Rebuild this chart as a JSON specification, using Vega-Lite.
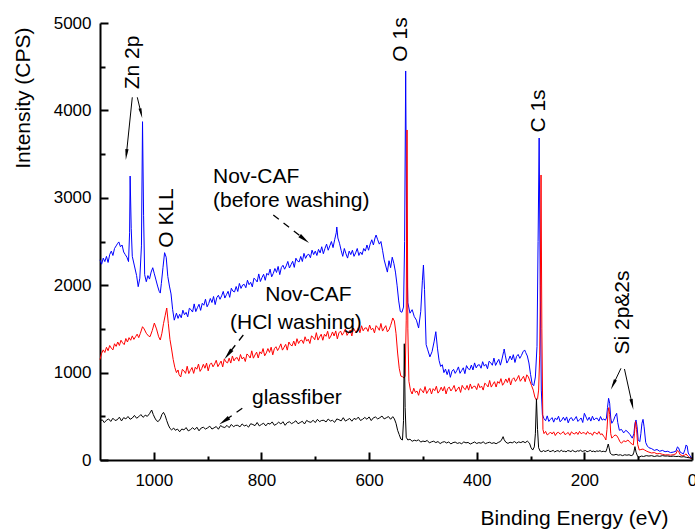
{
  "$schema": "https://vega.github.io/schema/vega-lite/v6.json",
  "width": 592,
  "height": 437,
  "autosize": {"type": "none"},
  "padding": {"left": 100, "top": 23, "right": 3, "bottom": 69},
  "background": "white",
  "config": {"view": {"stroke": null}, "font": "Liberation Sans"},
  "datasets": {
    "blue": [
      {"e":1100,"i":2290},{"e":1097,"i":2240},{"e":1094,"i":2310},{"e":1091,"i":2270},{"e":1088,"i":2330},{"e":1085,"i":2260},{"e":1082,"i":2350},{"e":1079,"i":2390},{"e":1076,"i":2340},{"e":1073,"i":2420},{"e":1070,"i":2450},{"e":1067,"i":2480},{"e":1065,"i":2495},{"e":1062,"i":2440},{"e":1059,"i":2460},{"e":1056,"i":2380},{"e":1053,"i":2350},{"e":1050,"i":2320},{"e":1047,"i":2270},{"e":1045,"i":2600},{"e":1044,"i":3249},{"e":1042,"i":2650},{"e":1040,"i":2330},{"e":1036,"i":2220},{"e":1032,"i":2110},{"e":1029,"i":1983},{"e":1026,"i":2080},{"e":1023,"i":2450},{"e":1021,"i":3871},{"e":1019,"i":2800},{"e":1017,"i":2120},{"e":1014,"i":2040},{"e":1011,"i":2110},{"e":1008,"i":2070},{"e":1005,"i":2150},{"e":1002,"i":2200},{"e":999,"i":2130},{"e":996,"i":2060},{"e":993,"i":1990},{"e":990,"i":1930},{"e":988,"i":1910},{"e":986,"i":2020},{"e":983,"i":2200},{"e":980,"i":2372},{"e":977,"i":2320},{"e":974,"i":2100},{"e":971,"i":1990},{"e":968,"i":1900},{"e":965,"i":1720},{"e":962,"i":1600},{"e":958,"i":1680},{"e":955,"i":1620},
      {"e":952,"i":1667},{"e":949,"i":1627},{"e":946,"i":1714},{"e":943,"i":1662},{"e":940,"i":1689},{"e":937,"i":1638},{"e":934,"i":1736},{"e":931,"i":1721},{"e":928,"i":1693},{"e":925,"i":1786},{"e":922,"i":1698},{"e":919,"i":1743},{"e":916,"i":1782},{"e":913,"i":1712},{"e":910,"i":1793},{"e":907,"i":1771},{"e":904,"i":1840},{"e":901,"i":1753},{"e":898,"i":1791},{"e":895,"i":1848},{"e":892,"i":1802},{"e":889,"i":1871},{"e":886,"i":1778},{"e":883,"i":1858},{"e":880,"i":1885},{"e":877,"i":1839},{"e":874,"i":1878},{"e":871,"i":1929},{"e":868,"i":1853},{"e":865,"i":1892},{"e":862,"i":1930},{"e":859,"i":1861},{"e":856,"i":1965},{"e":853,"i":1932},{"e":850,"i":1923},{"e":847,"i":1985},{"e":844,"i":1928},{"e":841,"i":2020},{"e":838,"i":1963},{"e":835,"i":2002},{"e":832,"i":2010},{"e":829,"i":1971},{"e":826,"i":2057},{"e":823,"i":2006},{"e":820,"i":2033},{"e":817,"i":1981},{"e":814,"i":2080},{"e":811,"i":2064},{"e":808,"i":2037},{"e":805,"i":2129},{"e":802,"i":2042},{"e":799,"i":2087},{"e":796,"i":2125},{"e":793,"i":2056},{"e":790,"i":2136},{"e":787,"i":2115},{"e":784,"i":2184},{"e":781,"i":2096},{"e":778,"i":2135},{"e":775,"i":2191},{"e":772,"i":2146},{"e":769,"i":2215},{"e":766,"i":2121},{"e":763,"i":2202},{"e":760,"i":2228},{"e":757,"i":2183},{"e":754,"i":2221},{"e":751,"i":2272},{"e":748,"i":2197},{"e":745,"i":2235},{"e":742,"i":2274},{"e":739,"i":2204},{"e":736,"i":2309},{"e":733,"i":2276},{"e":730,"i":2266},{"e":727,"i":2329},{"e":724,"i":2271},{"e":721,"i":2364},{"e":718,"i":2307},{"e":715,"i":2345},{"e":712,"i":2354},{"e":709,"i":2314},{"e":706,"i":2401},{"e":703,"i":2350},
      {"e":700,"i":2390},{"e":697,"i":2340},{"e":694,"i":2410},{"e":691,"i":2370},{"e":688,"i":2440},{"e":685,"i":2360},{"e":682,"i":2420},{"e":679,"i":2470},{"e":676,"i":2400},{"e":673,"i":2450},{"e":670,"i":2500},{"e":667,"i":2430},{"e":664,"i":2520},{"e":661,"i":2600},{"e":660,"i":2666},{"e":658,"i":2540},{"e":655,"i":2480},{"e":652,"i":2400},{"e":649,"i":2330},{"e":646,"i":2420},{"e":643,"i":2360},{"e":640,"i":2310},{"e":637,"i":2390},{"e":634,"i":2350},{"e":631,"i":2400},{"e":628,"i":2330},{"e":625,"i":2370},{"e":622,"i":2420},{"e":619,"i":2340},{"e":616,"i":2380},{"e":613,"i":2350},{"e":610,"i":2420},{"e":607,"i":2390},{"e":604,"i":2460},{"e":601,"i":2400},{"e":598,"i":2470},{"e":595,"i":2520},{"e":592,"i":2460},{"e":589,"i":2540},{"e":587,"i":2574},{"e":584,"i":2520},{"e":581,"i":2470},{"e":578,"i":2500},{"e":575,"i":2400},{"e":572,"i":2290},{"e":569,"i":2220},{"e":566,"i":2150},{"e":563,"i":2280},{"e":560,"i":2200},{"e":557,"i":2320},{"e":554,"i":2250},{"e":551,"i":2150},{"e":548,"i":2000},{"e":545,"i":1820},{"e":542,"i":1700},{"e":539,"i":1690},{"e":536,"i":1750},{"e":534,"i":2500},{"e":532,"i":4451},{"e":530,"i":2400},{"e":528,"i":1800},{"e":524,"i":1680},{"e":520,"i":1720},{"e":516,"i":1640},{"e":512,"i":1600},{"e":508,"i":1510},{"e":504,"i":1700},{"e":501,"i":2050},{"e":499,"i":2231},{"e":497,"i":1950},{"e":494,"i":1320},{"e":491,"i":1260},{"e":487,"i":1180},{"e":483,"i":1240},{"e":479,"i":1360},{"e":476,"i":1468},{"e":473,"i":1280},{"e":470,"i":1140},{"e":467,"i":1070},{"e":464,"i":1090},{"e":461,"i":1000},{"e":458,"i":1040},
      {"e":455,"i":977},{"e":452,"i":1036},{"e":449,"i":946},{"e":446,"i":1016},{"e":443,"i":1037},{"e":440,"i":991},{"e":437,"i":1023},{"e":434,"i":1065},{"e":431,"i":992},{"e":428,"i":1024},{"e":425,"i":1055},{"e":422,"i":988},{"e":419,"i":1080},{"e":416,"i":1045},{"e":413,"i":1033},{"e":410,"i":1086},{"e":407,"i":1030},{"e":404,"i":1111},{"e":401,"i":1054},{"e":398,"i":1086},{"e":395,"i":1090},{"e":392,"i":1050},{"e":389,"i":1125},{"e":386,"i":1074},{"e":383,"i":1095},{"e":380,"i":1044},{"e":377,"i":1130},{"e":374,"i":1113},{"e":371,"i":1084},{"e":368,"i":1166},{"e":365,"i":1082},{"e":362,"i":1120},{"e":359,"i":1152},{"e":356,"i":1085},{"e":353,"i":1156},{"e":350,"i":1240},{"e":349,"i":1270},{"e":347,"i":1200},{"e":344,"i":1109},{"e":341,"i":1141},{"e":338,"i":1190},{"e":335,"i":1145},{"e":332,"i":1205},{"e":329,"i":1116},{"e":326,"i":1186},{"e":323,"i":1208},{"e":320,"i":1163},{"e":317,"i":1195},{"e":314,"i":1238},{"e":311,"i":1259},{"e":309,"i":1230},{"e":306,"i":1190},{"e":303,"i":1110},{"e":300,"i":980},{"e":297,"i":870},{"e":294,"i":850},{"e":291,"i":950},{"e":288,"i":1300},{"e":286,"i":2500},{"e":284,"i":3684},{"e":282,"i":2000},{"e":280,"i":800},{"e":278,"i":520},
      {"e":275,"i":473},{"e":272,"i":449},{"e":269,"i":505},{"e":266,"i":441},{"e":263,"i":465},{"e":260,"i":485},{"e":257,"i":433},{"e":254,"i":481},{"e":251,"i":461},{"e":248,"i":501},{"e":245,"i":437},{"e":242,"i":457},{"e":239,"i":489},{"e":236,"i":453},{"e":233,"i":493},{"e":230,"i":425},{"e":227,"i":473},{"e":224,"i":485},{"e":221,"i":449},{"e":218,"i":469},{"e":215,"i":497},{"e":212,"i":441},{"e":209,"i":461},{"e":206,"i":481},{"e":203,"i":429},{"e":200,"i":534},{"e":197,"i":493},{"e":194,"i":453},{"e":191,"i":489},{"e":188,"i":445},{"e":185,"i":501},{"e":182,"i":457},{"e":179,"i":477},{"e":176,"i":477},{"e":173,"i":445},{"e":170,"i":497},{"e":167,"i":457},{"e":164,"i":469},{"e":161,"i":455},{"e":159,"i":480},{"e":157,"i":600},{"e":155,"i":706},{"e":153,"i":650},{"e":151,"i":480},{"e":149,"i":420},{"e":146,"i":450},{"e":143,"i":500},{"e":140,"i":534},{"e":138,"i":430},{"e":135,"i":340},{"e":131,"i":350},{"e":127,"i":310},{"e":123,"i":340},{"e":119,"i":320},{"e":115,"i":290},{"e":111,"i":250},{"e":108,"i":300},{"e":106,"i":420},{"e":104,"i":458},{"e":102,"i":380},{"e":100,"i":230},{"e":97,"i":210},{"e":95,"i":300},{"e":93,"i":420},{"e":91,"i":465},{"e":89,"i":380},{"e":86,"i":200},{"e":83,"i":160},{"e":80,"i":140},{"e":75,"i":130},{"e":70,"i":110},{"e":65,"i":120},{"e":60,"i":100},{"e":55,"i":110},{"e":50,"i":95},{"e":45,"i":100},{"e":40,"i":85},{"e":35,"i":90},{"e":30,"i":100},{"e":27,"i":150},{"e":25,"i":140},{"e":22,"i":90},{"e":19,"i":80},{"e":16,"i":70},{"e":13,"i":120},{"e":11,"i":172},{"e":9,"i":160},{"e":7,"i":80},{"e":4,"i":50},{"e":1,"i":23},{"e":0,"i":20}
    ],
    "red": [
      {"e":1100,"i":1150},{"e":1097,"i":1220},{"e":1094,"i":1260},{"e":1091,"i":1230},{"e":1088,"i":1290},{"e":1085,"i":1250},{"e":1082,"i":1310},{"e":1079,"i":1280},{"e":1076,"i":1260},{"e":1073,"i":1330},{"e":1070,"i":1300},{"e":1067,"i":1350},{"e":1064,"i":1310},{"e":1061,"i":1370},{"e":1058,"i":1340},{"e":1055,"i":1320},{"e":1052,"i":1390},{"e":1049,"i":1350},{"e":1046,"i":1400},{"e":1043,"i":1370},{"e":1040,"i":1420},{"e":1037,"i":1380},{"e":1034,"i":1410},{"e":1031,"i":1440},{"e":1028,"i":1400},{"e":1025,"i":1450},{"e":1021,"i":1525},{"e":1018,"i":1500},{"e":1014,"i":1450},{"e":1010,"i":1420},{"e":1007,"i":1411},{"e":1003,"i":1480},{"e":999,"i":1567},{"e":995,"i":1500},{"e":991,"i":1410},{"e":988,"i":1373},{"e":985,"i":1450},{"e":982,"i":1560},{"e":979,"i":1650},{"e":976,"i":1739},{"e":973,"i":1560},{"e":970,"i":1380},{"e":967,"i":1270},{"e":964,"i":1150},{"e":961,"i":1060},{"e":958,"i":1000},{"e":955,"i":1030},{"e":953,"i":975},
      {"e":950,"i":950},{"e":947,"i":1037},{"e":944,"i":1020},{"e":941,"i":991},{"e":938,"i":1073},{"e":935,"i":989},{"e":932,"i":1026},{"e":929,"i":1058},{"e":926,"i":991},{"e":923,"i":1062},{"e":920,"i":1039},{"e":917,"i":1098},{"e":914,"i":1014},{"e":911,"i":1046},{"e":908,"i":1095},{"e":905,"i":1050},{"e":902,"i":1109},{"e":899,"i":1020},{"e":896,"i":1090},{"e":893,"i":1111},{"e":890,"i":1066},{"e":887,"i":1098},{"e":884,"i":1141},{"e":881,"i":1068},{"e":878,"i":1100},{"e":875,"i":1132},{"e":872,"i":1065},{"e":869,"i":1157},{"e":866,"i":1123},{"e":863,"i":1111},{"e":860,"i":1165},{"e":857,"i":1109},{"e":854,"i":1190},{"e":851,"i":1134},{"e":848,"i":1166},{"e":845,"i":1171},{"e":842,"i":1131},{"e":839,"i":1207},{"e":836,"i":1156},{"e":833,"i":1177},{"e":830,"i":1127},{"e":827,"i":1213},{"e":824,"i":1196},{"e":821,"i":1167},{"e":818,"i":1249},{"e":815,"i":1165},{"e":812,"i":1202},{"e":809,"i":1234},{"e":806,"i":1167},{"e":803,"i":1238},{"e":800,"i":1215},{"e":797,"i":1275},{"e":794,"i":1192},{"e":791,"i":1225},{"e":788,"i":1275},{"e":785,"i":1231},{"e":782,"i":1291},{"e":779,"i":1203},{"e":776,"i":1274},{"e":773,"i":1296},{"e":770,"i":1252},{"e":767,"i":1285},{"e":764,"i":1329},{"e":761,"i":1257},{"e":758,"i":1290},{"e":755,"i":1323},{"e":752,"i":1257},{"e":749,"i":1350},{"e":746,"i":1317},{"e":743,"i":1306},{"e":740,"i":1361},{"e":737,"i":1306},{"e":734,"i":1388},{"e":731,"i":1333},{"e":728,"i":1366},{"e":725,"i":1372},{"e":722,"i":1333},{"e":719,"i":1410},{"e":716,"i":1360},{"e":713,"i":1382},{"e":710,"i":1333},{"e":707,"i":1420},{"e":704,"i":1404},{"e":701,"i":1376},{"e":698,"i":1457},{"e":695,"i":1372},{"e":692,"i":1408},{"e":689,"i":1439},{"e":686,"i":1370},{"e":683,"i":1439},{"e":680,"i":1415},{"e":677,"i":1473},{"e":674,"i":1388},{"e":671,"i":1418},{"e":668,"i":1465},{"e":665,"i":1419},{"e":662,"i":1477},{"e":659,"i":1386},{"e":656,"i":1455},{"e":653,"i":1475},{"e":650,"i":1428},{"e":647,"i":1459},{"e":644,"i":1500},{"e":641,"i":1426},{"e":638,"i":1457},{"e":635,"i":1487},{"e":632,"i":1419},{"e":629,"i":1510},{"e":626,"i":1474},{"e":623,"i":1461},{"e":620,"i":1513},{"e":617,"i":1456},{"e":614,"i":1536},{"e":611,"i":1478},{"e":608,"i":1509},{"e":605,"i":1512},{"e":602,"i":1471},{"e":599,"i":1544},{"e":596,"i":1490},{"e":593,"i":1508},{"e":590,"i":1454},{"e":587,"i":1537},{"e":584,"i":1516},{"e":581,"i":1484},{"e":578,"i":1562},{"e":575,"i":1475},{"e":572,"i":1508},{"e":569,"i":1537},{"e":566,"i":1466},{"e":563,"i":1490},{"e":560,"i":1540},{"e":558,"i":1580},{"e":556,"i":1625},{"e":553,"i":1590},{"e":550,"i":1450},{"e":547,"i":1224},{"e":544,"i":1050},{"e":541,"i":960},{"e":538,"i":953},{"e":535,"i":938},{"e":533,"i":960},{"e":531,"i":1600},{"e":529.5,"i":3776},{"e":528,"i":1500},{"e":526,"i":900},
      {"e":523,"i":794},{"e":520,"i":755},{"e":517,"i":821},{"e":514,"i":773},{"e":511,"i":789},{"e":508,"i":740},{"e":505,"i":816},{"e":502,"i":798},{"e":499,"i":769},{"e":496,"i":840},{"e":493,"i":761},{"e":490,"i":793},{"e":487,"i":819},{"e":484,"i":755},{"e":481,"i":816},{"e":478,"i":793},{"e":475,"i":844},{"e":472,"i":765},{"e":469,"i":791},{"e":466,"i":833},{"e":463,"i":789},{"e":460,"i":840},{"e":457,"i":756},{"e":454,"i":818},{"e":451,"i":834},{"e":448,"i":790},{"e":445,"i":816},{"e":442,"i":853},{"e":439,"i":784},{"e":436,"i":810},{"e":433,"i":836},{"e":430,"i":773},{"e":427,"i":854},{"e":424,"i":820},{"e":421,"i":806},{"e":418,"i":853},{"e":415,"i":799},{"e":412,"i":870},{"e":409,"i":816},{"e":406,"i":843},{"e":403,"i":844},{"e":400,"i":805},{"e":397,"i":874},{"e":394,"i":827},{"e":391,"i":846},{"e":388,"i":800},{"e":385,"i":879},{"e":382,"i":862},{"e":379,"i":836},{"e":376,"i":910},{"e":373,"i":834},{"e":370,"i":867},{"e":367,"i":896},{"e":364,"i":835},{"e":361,"i":898},{"e":358,"i":877},{"e":355,"i":931},{"e":352,"i":855},{"e":349,"i":883},{"e":346,"i":927},{"e":343,"i":886},{"e":340,"i":940},{"e":337,"i":858},{"e":334,"i":922},{"e":331,"i":941},{"e":328,"i":899},{"e":325,"i":928},{"e":322,"i":967},{"e":319,"i":901},{"e":316,"i":929},{"e":313,"i":958},{"e":310,"i":896},{"e":307,"i":975},{"e":304,"i":950},{"e":301,"i":900},{"e":298,"i":850},{"e":295,"i":800},{"e":292,"i":720},{"e":289,"i":686},{"e":287,"i":700},{"e":285,"i":800},{"e":283,"i":1200},{"e":282,"i":1800},{"e":280.5,"i":3261},{"e":279,"i":1500},{"e":277,"i":350},
      {"e":275,"i":302},{"e":272,"i":327},{"e":269,"i":287},{"e":266,"i":300},{"e":263,"i":320},{"e":260,"i":297},{"e":257,"i":322},{"e":254,"i":280},{"e":251,"i":310},{"e":248,"i":317},{"e":245,"i":295},{"e":242,"i":307},{"e":239,"i":325},{"e":236,"i":290},{"e":233,"i":302},{"e":230,"i":315},{"e":227,"i":282},{"e":224,"i":322},{"e":221,"i":305},{"e":218,"i":297},{"e":215,"i":320},{"e":212,"i":292},{"e":209,"i":327},{"e":206,"i":300},{"e":203,"i":312},{"e":200,"i":312},{"e":197,"i":292},{"e":194,"i":325},{"e":191,"i":300},{"e":188,"i":307},{"e":185,"i":282},{"e":182,"i":320},{"e":179,"i":310},{"e":176,"i":295},{"e":173,"i":325},{"e":170,"i":290},{"e":167,"i":300},{"e":164,"i":270},{"e":162,"i":255},{"e":160,"i":229},{"e":158,"i":350},{"e":156,"i":550},{"e":154.5,"i":600},{"e":153,"i":520},{"e":151,"i":300},{"e":149,"i":250},{"e":146,"i":270},{"e":143,"i":286},{"e":140,"i":280},{"e":137,"i":250},{"e":134,"i":210},{"e":131,"i":191},{"e":127,"i":220},{"e":123,"i":210},{"e":119,"i":229},{"e":115,"i":200},{"e":111,"i":180},{"e":109,"i":172},{"e":107,"i":300},{"e":105,"i":440},{"e":103,"i":350},{"e":101,"i":180},{"e":98,"i":114},{"e":95,"i":120},{"e":91,"i":125},{"e":88,"i":114},{"e":84,"i":100},{"e":80,"i":90},{"e":75,"i":80},{"e":70,"i":85},{"e":65,"i":70},{"e":60,"i":75},{"e":55,"i":65},{"e":50,"i":57},{"e":45,"i":60},{"e":40,"i":55},{"e":35,"i":60},{"e":30,"i":70},{"e":27,"i":110},{"e":25,"i":100},{"e":22,"i":60},{"e":18,"i":50},{"e":14,"i":55},{"e":11,"i":70},{"e":8,"i":45},{"e":5,"i":30},{"e":2,"i":20},{"e":0,"i":15}
    ],
    "black": [
      {"e":1100,"i":439},{"e":1096,"i":462},{"e":1092,"i":428},{"e":1088,"i":455},{"e":1084,"i":470},{"e":1080,"i":441},{"e":1076,"i":478},{"e":1072,"i":452},{"e":1068,"i":460},{"e":1064,"i":490},{"e":1060,"i":447},{"e":1056,"i":485},{"e":1052,"i":470},{"e":1048,"i":498},{"e":1044,"i":466},{"e":1040,"i":480},{"e":1036,"i":510},{"e":1032,"i":478},{"e":1028,"i":495},{"e":1024,"i":520},{"e":1020,"i":488},{"e":1016,"i":512},{"e":1012,"i":500},{"e":1008,"i":530},{"e":1004,"i":572},{"e":1001,"i":520},{"e":998,"i":480},{"e":995,"i":450},{"e":992,"i":439},{"e":988,"i":470},{"e":985,"i":520},{"e":982,"i":545},{"e":979,"i":510},{"e":976,"i":450},{"e":973,"i":400},{"e":970,"i":362},{"e":967,"i":345},{"e":963,"i":365},
      {"e":960,"i":340},{"e":956,"i":354},{"e":952,"i":323},{"e":948,"i":355},{"e":944,"i":344},{"e":940,"i":371},{"e":936,"i":333},{"e":932,"i":347},{"e":928,"i":369},{"e":924,"i":348},{"e":920,"i":375},{"e":916,"i":334},{"e":912,"i":366},{"e":908,"i":375},{"e":904,"i":354},{"e":900,"i":368},{"e":896,"i":387},{"e":892,"i":354},{"e":888,"i":368},{"e":884,"i":383},{"e":880,"i":352},{"e":876,"i":394},{"e":872,"i":378},{"e":868,"i":372},{"e":864,"i":396},{"e":860,"i":370},{"e":856,"i":407},{"e":852,"i":381},{"e":848,"i":396},{"e":844,"i":397},{"e":840,"i":379},{"e":836,"i":413},{"e":832,"i":390},{"e":828,"i":399},{"e":824,"i":376},{"e":820,"i":415},{"e":816,"i":406},{"e":812,"i":393},{"e":808,"i":429},{"e":804,"i":390},{"e":800,"i":407},{"e":796,"i":421},{"e":792,"i":390},{"e":788,"i":421},{"e":784,"i":410},{"e":780,"i":436},{"e":776,"i":397},{"e":772,"i":411},{"e":768,"i":433},{"e":764,"i":412},{"e":760,"i":438},{"e":756,"i":397},{"e":752,"i":428},{"e":748,"i":437},{"e":744,"i":416},{"e":740,"i":430},{"e":736,"i":449},{"e":732,"i":415},{"e":728,"i":429},{"e":724,"i":443},{"e":720,"i":412},{"e":716,"i":453},{"e":712,"i":437},{"e":708,"i":431},{"e":704,"i":455},{"e":700,"i":428},{"e":696,"i":465},{"e":692,"i":439},{"e":688,"i":453},{"e":684,"i":454},{"e":680,"i":435},{"e":676,"i":469},{"e":672,"i":446},{"e":668,"i":454},{"e":664,"i":431},{"e":660,"i":470},{"e":656,"i":461},{"e":652,"i":447},{"e":648,"i":484},{"e":644,"i":445},{"e":640,"i":461},{"e":636,"i":475},{"e":632,"i":444},{"e":628,"i":476},{"e":624,"i":464},{"e":620,"i":491},{"e":616,"i":452},{"e":612,"i":466},{"e":608,"i":487},{"e":604,"i":466},{"e":600,"i":493},{"e":596,"i":451},{"e":592,"i":483},{"e":588,"i":492},{"e":584,"i":470},{"e":580,"i":484},{"e":576,"i":503},{"e":572,"i":470},{"e":568,"i":483},{"e":564,"i":497},{"e":560,"i":466},{"e":556,"i":496},{"e":553,"i":470},{"e":550,"i":420},{"e":547,"i":340},{"e":544,"i":290},{"e":541,"i":240},{"e":538,"i":229},{"e":536,"i":450},{"e":534.6,"i":1330},{"e":533,"i":600},{"e":531,"i":260},
      {"e":528,"i":229},{"e":524,"i":238},{"e":520,"i":214},{"e":516,"i":226},{"e":512,"i":219},{"e":508,"i":231},{"e":504,"i":205},{"e":500,"i":217},{"e":496,"i":210},{"e":492,"i":224},{"e":488,"i":196},{"e":484,"i":208},{"e":480,"i":215},{"e":476,"i":199},{"e":472,"i":211},{"e":468,"i":188},{"e":464,"i":203},{"e":460,"i":210},{"e":456,"i":195},{"e":452,"i":206},{"e":448,"i":184},{"e":444,"i":199},{"e":440,"i":205},{"e":436,"i":190},{"e":432,"i":198},{"e":428,"i":186},{"e":424,"i":207},{"e":420,"i":196},{"e":416,"i":201},{"e":412,"i":183},{"e":408,"i":194},{"e":404,"i":206},{"e":400,"i":189},{"e":396,"i":199},{"e":392,"i":192},{"e":388,"i":208},{"e":384,"i":187},{"e":380,"i":197},{"e":376,"i":203},{"e":372,"i":190},{"e":368,"i":198},{"e":364,"i":186},{"e":360,"i":201},{"e":356,"i":212},{"e":353,"i":240},{"e":351,"i":267},{"e":349,"i":232},{"e":346,"i":204},{"e":342,"i":190},{"e":338,"i":203},{"e":334,"i":196},{"e":330,"i":211},{"e":326,"i":193},{"e":322,"i":207},{"e":318,"i":199},{"e":314,"i":212},{"e":310,"i":198},{"e":306,"i":216},{"e":302,"i":193},{"e":299,"i":140},{"e":296,"i":114},{"e":293,"i":150},{"e":291,"i":300},{"e":289,"i":700},{"e":287,"i":350},{"e":285,"i":140},{"e":282,"i":100},
      {"e":279,"i":95},{"e":276,"i":108},{"e":273,"i":97},{"e":270,"i":104},{"e":267,"i":112},{"e":264,"i":96},{"e":261,"i":101},{"e":258,"i":110},{"e":255,"i":92},{"e":252,"i":103},{"e":249,"i":107},{"e":246,"i":95},{"e":243,"i":112},{"e":240,"i":98},{"e":237,"i":101},{"e":234,"i":93},{"e":231,"i":108},{"e":228,"i":104},{"e":225,"i":96},{"e":222,"i":111},{"e":219,"i":99},{"e":216,"i":94},{"e":213,"i":106},{"e":210,"i":101},{"e":207,"i":112},{"e":204,"i":97},{"e":201,"i":103},{"e":198,"i":108},{"e":195,"i":95},{"e":192,"i":100},{"e":189,"i":110},{"e":186,"i":96},{"e":183,"i":102},{"e":180,"i":93},{"e":177,"i":104},{"e":174,"i":99},{"e":171,"i":107},{"e":168,"i":95},{"e":165,"i":100},{"e":162,"i":96},{"e":160,"i":95},{"e":158,"i":130},{"e":155.6,"i":183},{"e":154,"i":140},{"e":152,"i":80},{"e":149,"i":60},{"e":145,"i":57},{"e":141,"i":65},{"e":137,"i":55},{"e":133,"i":60},{"e":129,"i":50},{"e":125,"i":60},{"e":121,"i":55},{"e":117,"i":60},{"e":113,"i":50},{"e":110,"i":57},{"e":108,"i":90},{"e":106,"i":153},{"e":104,"i":90},{"e":101,"i":40},{"e":98,"i":34},{"e":94,"i":45},{"e":90,"i":40},{"e":85,"i":50},{"e":80,"i":45},{"e":75,"i":50},{"e":70,"i":40},{"e":65,"i":48},{"e":60,"i":42},{"e":55,"i":50},{"e":50,"i":45},{"e":45,"i":46},{"e":40,"i":40},{"e":35,"i":45},{"e":30,"i":40},{"e":25,"i":42},{"e":20,"i":35},{"e":15,"i":38},{"e":10,"i":30},{"e":5,"i":25},{"e":0,"i":20}
    ],
    "hlabels": [
      {"t":"Nov-CAF","e":890,"i":3240},
      {"t":"(before washing)","e":890,"i":2963},
      {"t":"Nov-CAF","e":793,"i":1888},
      {"t":"(HCl washing)","e":858.5,"i":1568},
      {"t":"glassfiber","e":817.6,"i":709}
    ],
    "vlabels": [
      {"t":"Zn 2p","e":1038.1,"i":4548},
      {"t":"O KLL","e":975.5,"i":2769},
      {"t":"O 1s","e":540.7,"i":4811},
      {"t":"C 1s","e":284.3,"i":3993},
      {"t":"Si 2p&2s","e":127.7,"i":1688}
    ],
    "solidArrows": [
      {"id":"zn1","e":1040,"i":4150,"e2":1051,"i2":3495},
      {"id":"zn2","e":1030.7,"i":4150,"e2":1023.6,"i2":3966},
      {"id":"si1","e":132,"i":1049,"e2":146.6,"i2":860},
      {"id":"si2","e":125.5,"i":1041,"e2":111.1,"i2":636}
    ],
    "dashedArrows": [
      {"id":"blue","e":778,"i":2803,"e2":720.2,"i2":2526},
      {"id":"red","e":833.7,"i":1430,"e2":862,"i2":1208},
      {"id":"black","e":835.6,"i":592,"e2":869.4,"i2":445}
    ],
    "heads": [
      {"id":"zn1","e":1051,"i":3495},
      {"id":"zn2","e":1023.6,"i":3966},
      {"id":"si1","e":146.6,"i":860},
      {"id":"si2","e":111.1,"i":636},
      {"id":"blue","e":720.2,"i":2526},
      {"id":"red","e":862,"i":1208},
      {"id":"black","e":869.4,"i":445}
    ]
  },
  "encoding": {
    "x": {
      "field": "e", "type": "quantitative",
      "scale": {"domain": [0, 1100], "reverse": true, "nice": false, "zero": false},
      "axis": {
        "title": "Binding Energy (eV)",
        "values": [1000, 900, 800, 700, 600, 500, 400, 300, 200, 100, 0],
        "format": "d",
        "labelExpr": "datum.value % 200 === 0 ? datum.label : ''",
        "tickSize": {"condition": {"test": "datum.value % 200 === 0", "value": -8}, "value": -4},
        "labelPadding": 20,
        "grid": false,
        "domainColor": "black", "domainWidth": 2,
        "tickColor": "black", "tickWidth": 2,
        "labelFont": "Liberation Sans", "labelFontSize": 17, "labelColor": "black",
        "labelFlush": false, "labelOverlap": false,
        "titleFont": "Liberation Sans", "titleFontSize": 21, "titleFontWeight": "normal", "titleColor": "black",
        "titleX": 568, "titleY": 58, "titleAlign": "right", "titleBaseline": "middle"
      }
    },
    "y": {
      "field": "i", "type": "quantitative",
      "scale": {"domain": [0, 5000], "nice": false, "zero": false},
      "axis": {
        "title": "Intensity (CPS)",
        "values": [0, 500, 1000, 1500, 2000, 2500, 3000, 3500, 4000, 4500, 5000],
        "format": "d",
        "labelExpr": "datum.value % 1000 === 0 ? datum.label : ''",
        "tickSize": {"condition": {"test": "datum.value % 1000 === 0", "value": -8}, "value": -5},
        "labelPadding": 17,
        "grid": false,
        "domainColor": "black", "domainWidth": 2,
        "tickColor": "black", "tickWidth": 2,
        "labelFont": "Liberation Sans", "labelFontSize": 17, "labelColor": "black",
        "labelFlush": false, "labelOverlap": false,
        "titleFont": "Liberation Sans", "titleFontSize": 21, "titleFontWeight": "normal", "titleColor": "black",
        "titleAngle": 270, "titleX": -77, "titleY": 4, "titleAlign": "right", "titleBaseline": "middle"
      }
    }
  },
  "layer": [
    {"data": {"name": "blue"}, "mark": {"type": "line", "color": "#0000ff", "strokeWidth": 1}},
    {"data": {"name": "red"}, "mark": {"type": "line", "color": "#ff0000", "strokeWidth": 1}},
    {"data": {"name": "black"}, "mark": {"type": "line", "color": "#000000", "strokeWidth": 1}},
    {"data": {"name": "solidArrows"}, "mark": {"type": "rule", "color": "black", "strokeWidth": 1}, "encoding": {"x2": {"field": "e2"}, "y2": {"field": "i2"}}},
    {"data": {"name": "dashedArrows"}, "mark": {"type": "rule", "color": "black", "strokeWidth": 1.3, "strokeDash": [7, 6]}, "encoding": {"x2": {"field": "e2"}, "y2": {"field": "i2"}}},
    {"data": {"name": "heads"}, "transform": [{"filter": "datum.id === 'zn1'"}], "mark": {"type": "point", "shape": "M0,-1L0.3,1L-0.3,1Z", "filled": true, "color": "black", "opacity": 1, "size": 121, "angle": 186}},
    {"data": {"name": "heads"}, "transform": [{"filter": "datum.id === 'zn2'"}], "mark": {"type": "point", "shape": "M0,-1L0.3,1L-0.3,1Z", "filled": true, "color": "black", "opacity": 1, "size": 100, "angle": 167}},
    {"data": {"name": "heads"}, "transform": [{"filter": "datum.id === 'si1'"}], "mark": {"type": "point", "shape": "M0,-1L0.3,1L-0.3,1Z", "filled": true, "color": "black", "opacity": 1, "size": 121, "angle": 205}},
    {"data": {"name": "heads"}, "transform": [{"filter": "datum.id === 'si2'"}], "mark": {"type": "point", "shape": "M0,-1L0.3,1L-0.3,1Z", "filled": true, "color": "black", "opacity": 1, "size": 121, "angle": 168}},
    {"data": {"name": "heads"}, "transform": [{"filter": "datum.id === 'blue'"}], "mark": {"type": "point", "shape": "M0,-1L0.35,1L-0.35,1Z", "filled": true, "color": "black", "opacity": 1, "size": 144, "angle": 128}},
    {"data": {"name": "heads"}, "transform": [{"filter": "datum.id === 'red'"}], "mark": {"type": "point", "shape": "M0,-1L0.35,1L-0.35,1Z", "filled": true, "color": "black", "opacity": 1, "size": 144, "angle": 218}},
    {"data": {"name": "heads"}, "transform": [{"filter": "datum.id === 'black'"}], "mark": {"type": "point", "shape": "M0,-1L0.35,1L-0.35,1Z", "filled": true, "color": "black", "opacity": 1, "size": 144, "angle": 235}},
    {"data": {"name": "hlabels"}, "mark": {"type": "text", "align": "left", "baseline": "middle", "font": "Liberation Sans", "fontSize": 21, "color": "black"}, "encoding": {"text": {"field": "t"}}},
    {"data": {"name": "vlabels"}, "mark": {"type": "text", "align": "center", "baseline": "middle", "angle": 270, "font": "Liberation Sans", "fontSize": 21, "color": "black"}, "encoding": {"text": {"field": "t"}}}
  ]
}
